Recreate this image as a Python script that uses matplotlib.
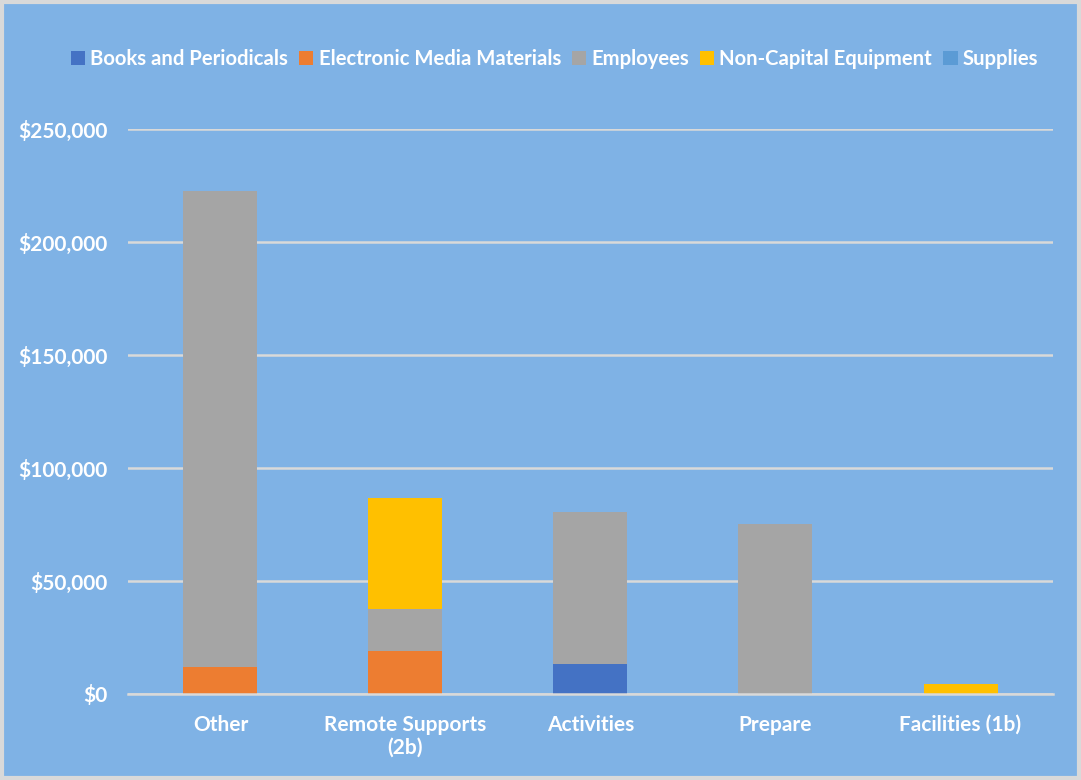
import matplotlib.pyplot as plt
import numpy as np
from matplotlib.patches import Rectangle
from matplotlib.ticker import FuncFormatter

categories = ["Other", "Remote Supports\n(2b)", "Activities", "Prepare", "Facilities (1b)"]
books = [0, 0, 13300, 0, 0]
electronic = [12000, 19000, 0, 0, 0]
employees = [210600, 18600, 67200, 75200, 0]
non_capital = [0, 49100, 0, 0, 4400]
supplies = [0, 0, 0, 0, 0]

series = [
    ("Books and Periodicals", books, "#4472C4"),
    ("Electronic Media Materials", electronic, "#ED7D31"),
    ("Employees", employees, "#A5A5A5"),
    ("Non-Capital Equipment", non_capital, "#FFC000"),
    ("Supplies", supplies, "#5B9BD5"),
]

bg = "#7FB2E5"
plt.rcParams["font.family"] = ["Lato", "DejaVu Sans"]

fig = plt.figure(figsize=(10.81, 7.8), dpi=100)
fig.set_facecolor(bg)
ax = fig.add_axes([0.1184, 0.1103, 0.8557, 0.7243])
ax.set_facecolor(bg)

x = np.arange(len(categories))
bottom = np.zeros(len(categories))
for name, vals, color in series:
    vals = np.array(vals, dtype=float)
    ax.bar(x, vals, 0.4, bottom=bottom, color=color, label=name, zorder=3)
    bottom += vals

ax.set_xlim(-0.5, 4.5)
ax.set_ylim(0, 250000)
ax.set_yticks(np.arange(0, 250001, 50000))
ax.yaxis.set_major_formatter(FuncFormatter(lambda v, p: "${:,.0f}".format(v)))
ax.grid(axis="y", color="#D9D9D9", linewidth=1.8, zorder=0)
for s in ["top", "right", "left"]:
    ax.spines[s].set_visible(False)
ax.spines["bottom"].set_color("#D9D9D9")
ax.spines["bottom"].set_linewidth(1.8)
ax.spines["bottom"].set_zorder(4)

ax.set_xticks(x)
ax.set_xticklabels(categories)
ax.tick_params(axis="both", length=0, colors="white", labelsize=15)
ax.tick_params(axis="y", pad=15)
ax.tick_params(axis="x", pad=15)
for lbl in ax.get_xticklabels() + ax.get_yticklabels():
    lbl.set_fontweight("bold")

leg = fig.legend(loc="center", bbox_to_anchor=(0.513, 0.924), ncol=5, frameon=False,
                 handlelength=0.7, handleheight=0.7, handletextpad=0.25,
                 columnspacing=0.55, prop={"size": 14.6, "weight": "bold"})
for t in leg.get_texts():
    t.set_color("white")

fig.patches.append(Rectangle((0.002, 0.003), 0.996, 0.994, transform=fig.transFigure,
                             fill=False, edgecolor="#D9D9D9", linewidth=3))

fig.savefig("out.png", dpi=100, facecolor=bg)
